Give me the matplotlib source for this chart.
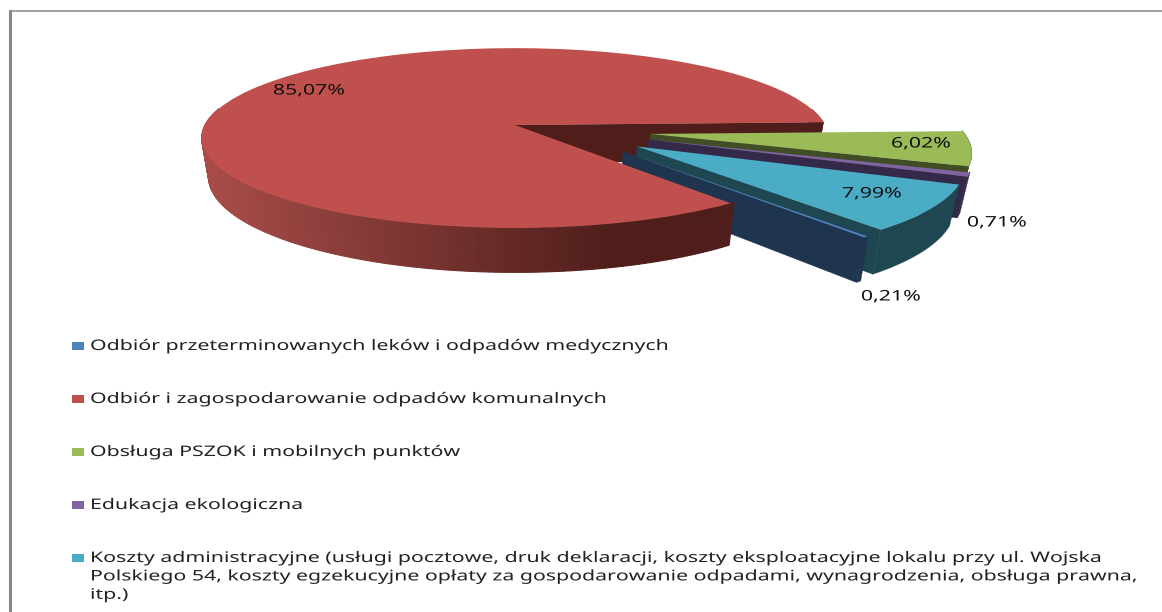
import numpy as np
import matplotlib
matplotlib.use("Agg")
import matplotlib.pyplot as plt
import matplotlib.patheffects as pe
from matplotlib.patches import Rectangle
from matplotlib.transforms import Transform, Affine2D

# ---------- data ----------
categories = [
    "Odbiór przeterminowanych leków i odpadów medycznych",
    "Odbiór i zagospodarowanie odpadów komunalnych",
    "Obsługa PSZOK i mobilnych punktów",
    "Edukacja ekologiczna",
    "Koszty administracyjne (usługi pocztowe, druk deklaracji, koszty eksploatacyjne lokalu przy ul. Wojska\n"
    "Polskiego 54, koszty egzekucyjne opłaty za gospodarowanie odpadami, wynagrodzenia, obsługa prawna,\n"
    "itp.)",
]
values = [0.21, 85.07, 6.02, 0.71, 7.99]

# ---------- style ----------
top_colors = ["#4F81BD", "#C0504D", "#9BBB59", "#8064A2", "#4BACC6"]
wall_colors = ["#1F344F", "#4F1E1B", "#404E25", "#35294A", "#1F4752"]
slice_offsets = [(0.334, -0.29), (0, 0), (0.43, -0.10), (0.42, -0.16), (0.38, -0.235)]
label_pos = [(891, 297), (309, 91), (921, 144), (997, 223), (872, 194)]
legend_y = [346, 399, 452, 505, 558]
START_ANGLE = -51.2
CX, CY, RX, RY, K, DEPTH, TAPER = 515, 125, 310, 88, 0.145, 38, 0.022
STRETCH = 1.46
FONT = "Noto Sans"
FONT_SIZE = 10.5


def project(u, v, z=0.0):
    p = 1.0 / (1.0 + K * v)
    return CX + RX * u * p * (1 - TAPER * z), CY - RY * v * p + DEPTH * z * p


class Perspective(Transform):
    input_dims = output_dims = 2
    is_separable = False
    has_inverse = False

    def transform_non_affine(self, values):
        values = np.asarray(values, dtype=float)
        x, y = project(values[:, 0], values[:, 1])
        return np.column_stack([x, y])


class StretchX(pe.AbstractPathEffect):
    def __init__(self, sx):
        super().__init__()
        self.sx = sx

    def draw_path(self, renderer, gc, tpath, affine, rgbFace=None):
        renderer.draw_path(gc, tpath, Affine2D().scale(self.sx, 1) + affine, rgbFace)


fig = plt.figure(figsize=(11.62, 6.12), dpi=100, facecolor="white")
ax = fig.add_axes([0, 0, 1, 1])

wedges, _ = ax.pie(values, colors=top_colors, startangle=START_ANGLE, counterclock=False,
                   radius=1.0, wedgeprops={"linewidth": 0})
ax.set_aspect("auto")
ax.set_xlim(0, 1162)
ax.set_ylim(612, 0)
ax.set_axis_off()

persp = Perspective() + ax.transData
z = [10]


def nextz():
    z[0] += 1
    return z[0]


def hexmix(a, b, t):
    ca, cb = np.array(matplotlib.colors.to_rgb(a)), np.array(matplotlib.colors.to_rgb(b))
    return tuple(ca + (cb - ca) * np.clip(t, 0, 1))


def wall(us, vs, color, lw=0.0):
    xt, yt = project(us, vs, 0)
    xb, yb = project(us, vs, 1)
    ax.fill(np.r_[xt, xb[::-1]], np.r_[yt, yb[::-1]], facecolor=color, edgecolor=color,
            lw=lw, zorder=nextz())


def draw_cut(i):
    w = wedges[i]
    a = np.radians(min(w.theta1, w.theta2))
    cu, cv = slice_offsets[i]
    wall(np.array([cu, cu + np.cos(a)]), np.array([cv, cv + np.sin(a)]), wall_colors[i], lw=0.3)


def arc_angles(i):
    w = wedges[i]
    return np.arange(min(w.theta1, w.theta2), max(w.theta1, w.theta2) + 1.0, 1.0)


def draw_outer(i):
    cu, cv = slice_offsets[i]
    th = np.radians(arc_angles(i))
    th = th[np.sin(th) < 0.2]
    wall(cu + np.cos(th), cv + np.sin(th), wall_colors[i], lw=0.3)


def draw_red_back():
    """The short stretch of the big slice's rim that sits behind the exploded slices."""
    deg = arc_angles(1)
    th = np.radians(deg[deg < -270])
    th = th[np.sin(th) < 0.2]
    wall(np.cos(th), np.sin(th), wall_colors[1], lw=0.3)


def draw_red_front():
    deg = arc_angles(1)
    th = np.radians(deg[deg > -270])
    th = th[np.sin(th) < 0.2]
    us, vs = np.cos(th), np.sin(th)
    for j in range(len(th) - 1):
        xm = project(us[j], vs[j])[0]
        color = hexmix("#A84C48", wall_colors[1], (xm - 205) / (610 - 205))
        wall(us[j:j + 2], vs[j:j + 2], color, lw=0.8)


def draw_top(i):
    w = wedges[i]
    w.set_center(slice_offsets[i])
    w.set_transform(persp)
    w.set_zorder(nextz())


draw_red_back()
draw_cut(1)
for i in [2, 3, 4, 0]:
    draw_outer(i)
    draw_cut(i)
    draw_top(i)
draw_red_front()
draw_top(1)

# frame
ax.plot([9.7, 9.7], [10, 612], color="#868686", lw=2.2, solid_capstyle="butt", zorder=5)
ax.plot([8.5, 1162], [10.7, 10.7], color="#868686", lw=1.1, solid_capstyle="butt", zorder=5)

stretch = [StretchX(STRETCH)]
renderer = fig.canvas.get_renderer()

# data labels, centred on their stretched width
for v, (x, y) in zip(values, label_pos):
    s = f"{v:.2f}%".replace(".", ",")
    t = ax.text(x, y, s, fontsize=FONT_SIZE, family=FONT, color="#111111", ha="left", va="center",
                zorder=500)
    t.set_x(x - t.get_window_extent(renderer).width * STRETCH / 2)
    t.set_path_effects(stretch)

# legend
for name, col, y in zip(categories, top_colors, legend_y):
    ax.add_patch(Rectangle((71.5, y - 4), 12, 8, facecolor=col, edgecolor="none", zorder=400))
    t = ax.text(90, y - 7, name, fontsize=FONT_SIZE, family=FONT, color="#222222", ha="left", va="top",
                linespacing=1.31, zorder=500)
    t.set_path_effects(stretch)

fig.savefig("out.png", dpi=100, facecolor="white")
